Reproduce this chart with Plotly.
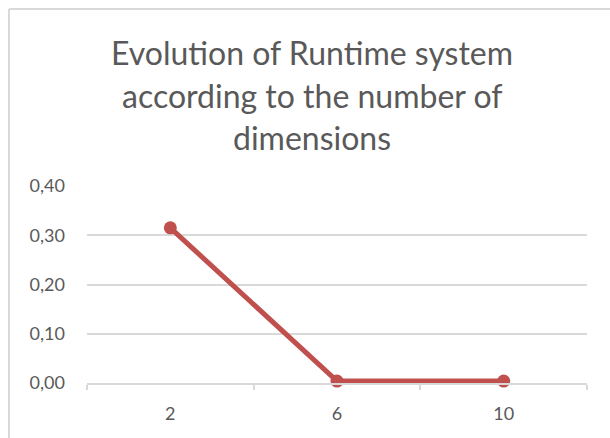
import plotly.graph_objects as go

# Runtime measured for each number of dimensions
dimensions = ["2", "6", "10"]
runtime = [0.315, 0.004, 0.004]
y_ticks = [0.0, 0.1, 0.2, 0.3, 0.4]
title_lines = ["Evolution of Runtime system", "according to the number of", "dimensions"]

W, H = 610, 438
M_L, M_R, M_T, M_B = 87, 23, 186, 55
plot_w = W - M_L - M_R
plot_h = H - M_T - M_B

LINE_RED = "#C0504D"
GRID = "#d9d9d9"
TEXT = "#595959"
FONT = "Lato"


def px_x(px):
    return (px - M_L) / plot_w


def px_y(py):
    return (H - M_B - py) / plot_h


fig = go.Figure(
    go.Scatter(
        x=dimensions,
        y=runtime,
        mode="lines+markers",
        line=dict(color=LINE_RED, width=5),
        marker=dict(color=LINE_RED, size=13),
        cliponaxis=False,
    )
)

# Centred title, one annotation per line
title_y = [52, 95, 137]
annotations = [
    dict(
        text=t, x=px_x(312), y=px_y(yy), xref="paper", yref="paper",
        xanchor="center", yanchor="middle", showarrow=False,
        font=dict(family=FONT, size=32, color=TEXT),
    )
    for t, yy in zip(title_lines, title_y)
]

# Light chart-area frame (left and top edges visible)
shapes = [
    dict(type="line", xref="paper", yref="paper",
         x0=px_x(9), x1=px_x(620), y0=px_y(9), y1=px_y(9),
         line=dict(color=GRID, width=2)),
    dict(type="line", xref="paper", yref="paper",
         x0=px_x(9), x1=px_x(9), y0=px_y(9), y1=px_y(450),
         line=dict(color=GRID, width=2)),
]

fig.update_layout(
    width=W, height=H,
    margin=dict(l=M_L, r=M_R, t=M_T, b=M_B),
    paper_bgcolor="white", plot_bgcolor="white",
    separators=",.",
    showlegend=False,
    annotations=annotations,
    shapes=shapes,
    font=dict(family=FONT, color=TEXT),
)

fig.update_xaxes(
    type="category", range=[-0.5, 2.5],
    showgrid=False, showline=True, linecolor=GRID, linewidth=1.5,
    ticks="outside", tickson="boundaries", ticklen=5, tickcolor=GRID, tickwidth=1.5,
    tickfont=dict(family=FONT, size=18, color=TEXT),
    ticklabelstandoff=14,
)
fig.update_yaxes(
    range=[0, 0.4], tickvals=y_ticks, tickformat=".2f",
    showgrid=True, gridcolor=GRID, gridwidth=1.5,
    zeroline=False, showline=False, ticks="",
    tickfont=dict(family=FONT, size=18, color=TEXT),
    ticklabelstandoff=21,
)

fig.write_html("out.html")
